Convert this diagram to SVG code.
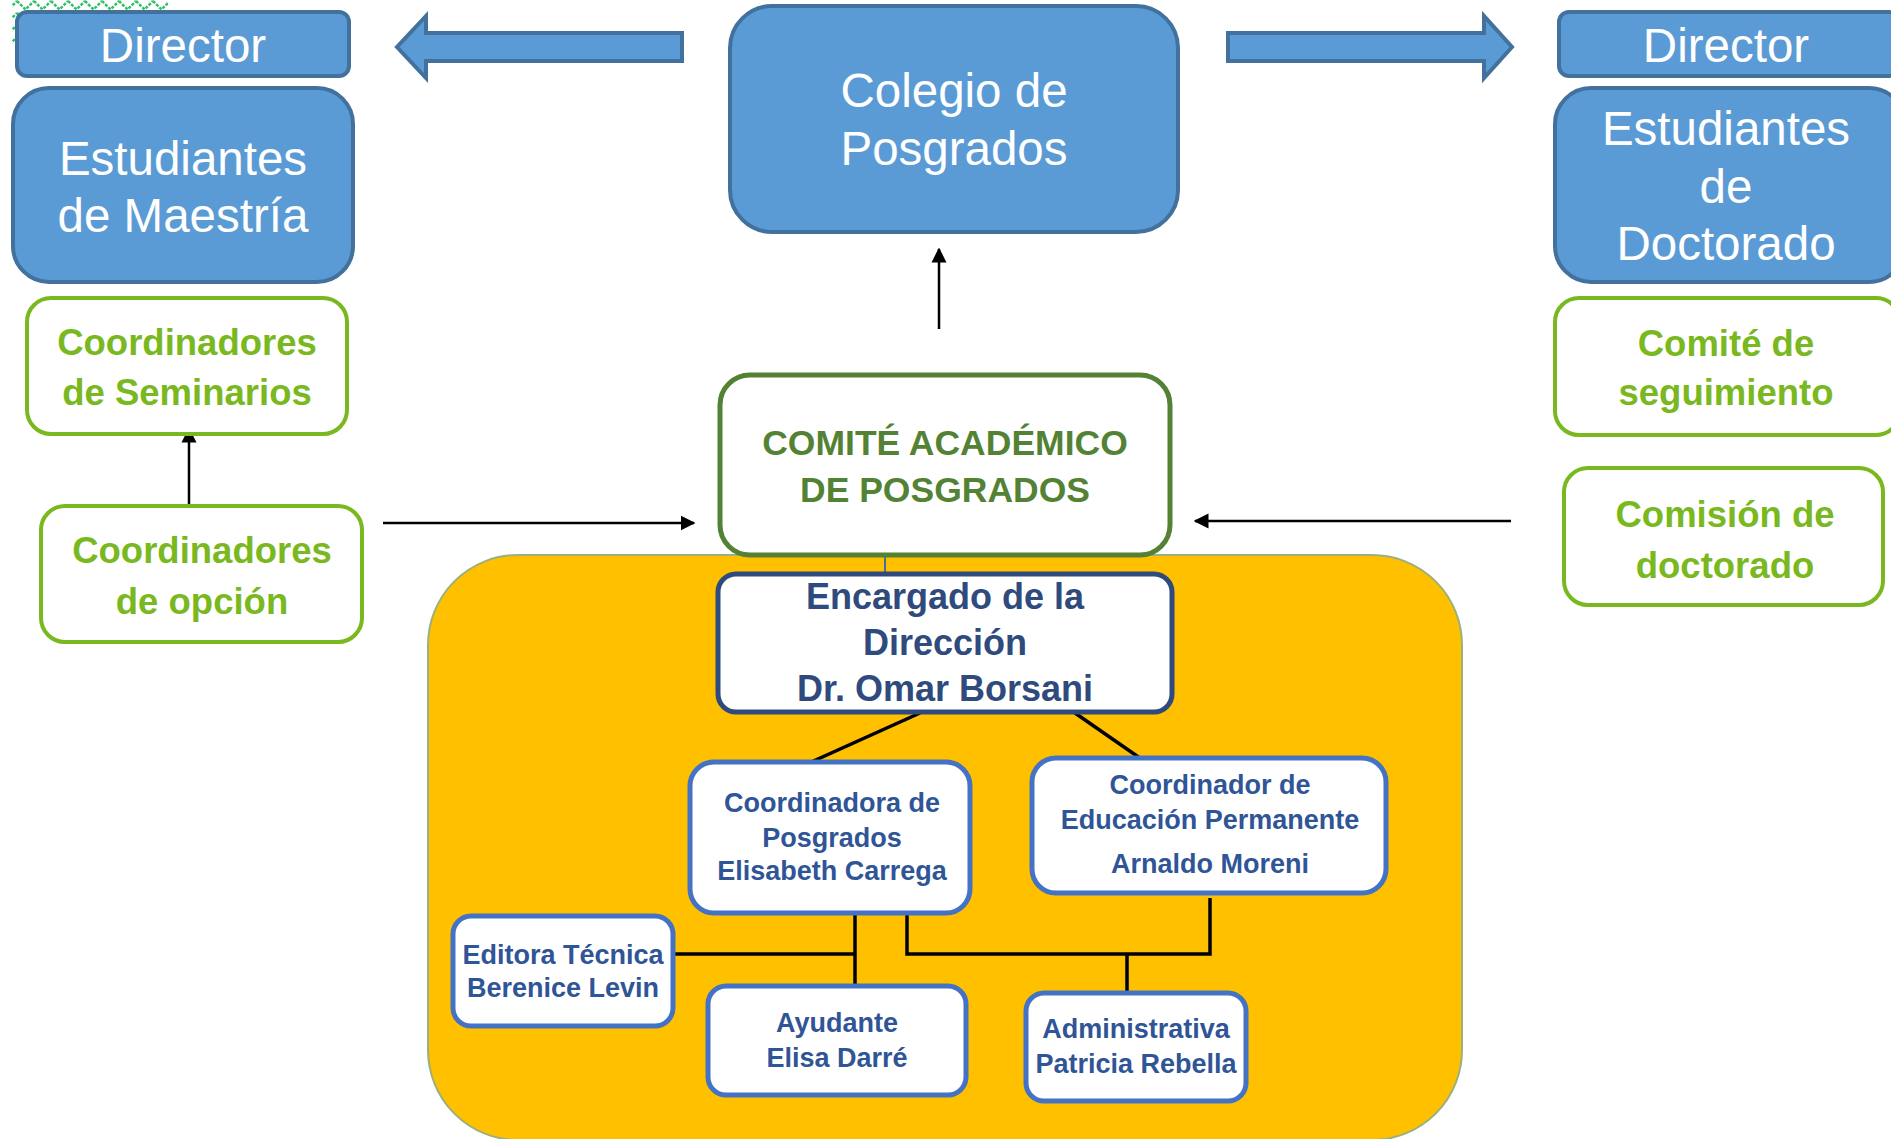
<svg xmlns="http://www.w3.org/2000/svg" width="1891" height="1139" viewBox="0 0 1891 1139">
<style>
.blue{fill:#5B9BD5;stroke:#41719C;stroke-width:4}
.bt{font-family:"Liberation Sans",Arial,sans-serif;font-size:47.5px;fill:#FFFFFF;text-anchor:middle}
.gbox{fill:#FFFFFF;stroke:#7AB81F;stroke-width:4}
.gt{font-family:"Liberation Sans",Arial,sans-serif;font-size:36.5px;font-weight:bold;fill:#7AB81F;text-anchor:middle}
.sbox{fill:#FFFFFF;stroke:#4472C4;stroke-width:5}
.st{font-family:"Liberation Sans",Arial,sans-serif;font-size:27px;font-weight:bold;fill:#2F5597;text-anchor:middle}
.ct{font-family:"Liberation Sans",Arial,sans-serif;font-size:35.5px;font-weight:bold;fill:#548235;text-anchor:middle}
.et{font-family:"Liberation Sans",Arial,sans-serif;font-size:36px;font-weight:bold;fill:#2F4A7C;text-anchor:middle}
.ln{stroke:#000000;stroke-width:3.5;fill:none}
.ar{stroke:#000000;stroke-width:2.5;fill:none;marker-end:url(#ah)}
</style>
<defs>
<marker id="ah" viewBox="0 0 10 10" refX="9" refY="5" markerWidth="6" markerHeight="6.5" markerUnits="strokeWidth" orient="auto">
<path d="M0,0 L10,5 L0,10 z" fill="#000000"/>
</marker>
<pattern id="zz" width="17" height="12" patternUnits="userSpaceOnUse">
<polyline points="0,1 8.5,9.5 17,1" fill="none" stroke="#33C066" stroke-width="2.5" stroke-dasharray="3 1.5"/>
</pattern>
</defs>

<rect id="deco" x="12" y="-3" width="156" height="51" fill="url(#zz)"/>

<g id="yellow-area">
<rect x="428" y="555" width="1034" height="585" rx="90" fill="#FFC000" stroke="#9BB07A" stroke-width="2"/>
</g>

<g id="connectors">
<polygon points="682,33 426,33 426,16 397,47 426,78 426,61 682,61" class="blue" stroke-width="3"/>
<polygon points="1228,33 1484,33 1484,16 1512,47 1484,78 1484,61 1228,61" class="blue" stroke-width="3"/>
<line x1="939" y1="329" x2="939" y2="249" class="ar"/>
<line x1="189" y1="510" x2="189" y2="429" class="ar"/>
<line x1="383" y1="523" x2="694" y2="523" class="ar"/>
<line x1="1511" y1="521" x2="1195" y2="521" class="ar"/>
<line x1="885" y1="555" x2="885" y2="576" stroke="#41719C" stroke-width="2"/>
<line x1="920" y1="713" x2="809" y2="763" class="ln"/>
<line x1="1075" y1="713" x2="1147" y2="763" class="ln"/>
<line x1="855" y1="913" x2="855" y2="986" class="ln"/>
<line x1="673" y1="954" x2="855" y2="954" class="ln"/>
<polyline points="907,913 907,954 1210,954 1210,898" class="ln"/>
<line x1="1127" y1="954" x2="1127" y2="994" class="ln"/>
</g>

<g id="director-left">
<rect x="17" y="12" width="332" height="64" rx="10" class="blue"/>
<text x="183" y="62" class="bt">Director</text>
</g>
<g id="estudiantes-maestria">
<rect x="13" y="88" width="340" height="194" rx="36" class="blue"/>
<text x="183" y="175" class="bt">Estudiantes</text>
<text x="183" y="232" class="bt">de Maestría</text>
</g>
<g id="colegio">
<rect x="730" y="6" width="448" height="226" rx="42" class="blue"/>
<text x="954" y="107" class="bt">Colegio de</text>
<text x="954" y="165" class="bt">Posgrados</text>
</g>
<g id="director-right">
<rect x="1559" y="12" width="340" height="64" rx="10" class="blue"/>
<text x="1726" y="62" class="bt">Director</text>
</g>
<g id="estudiantes-doctorado">
<rect x="1555" y="88" width="350" height="194" rx="36" class="blue"/>
<text x="1726" y="145" class="bt">Estudiantes</text>
<text x="1726" y="203" class="bt">de</text>
<text x="1726" y="260" class="bt">Doctorado</text>
</g>

<g id="coord-seminarios">
<rect x="27" y="298" width="320" height="136" rx="24" class="gbox"/>
<text x="187" y="355" class="gt">Coordinadores</text>
<text x="187" y="405" class="gt">de Seminarios</text>
</g>
<g id="coord-opcion">
<rect x="41" y="506" width="321" height="136" rx="24" class="gbox"/>
<text x="202" y="563" class="gt">Coordinadores</text>
<text x="202" y="614" class="gt">de opción</text>
</g>
<g id="comite-seguimiento">
<rect x="1555" y="298" width="345" height="137" rx="24" class="gbox"/>
<text x="1726" y="356" class="gt">Comité de</text>
<text x="1726" y="405" class="gt">seguimiento</text>
</g>
<g id="comision-doctorado">
<rect x="1564" y="468" width="319" height="137" rx="24" class="gbox"/>
<text x="1725" y="527" class="gt">Comisión de</text>
<text x="1725" y="578" class="gt">doctorado</text>
</g>

<g id="comite-academico">
<rect x="720" y="375" width="450" height="180" rx="30" fill="#FFFFFF" stroke="#548235" stroke-width="5"/>
<text x="945" y="455" class="ct">COMITÉ ACADÉMICO</text>
<text x="945" y="502" class="ct">DE POSGRADOS</text>
</g>

<g id="encargado">
<rect x="718" y="574" width="454" height="138" rx="18" fill="#FFFFFF" stroke="#2F4A7C" stroke-width="5"/>
<text x="945" y="609" class="et">Encargado de la</text>
<text x="945" y="655" class="et">Dirección</text>
<text x="945" y="701" class="et">Dr. Omar Borsani</text>
</g>

<g id="coordinadora-posgrados">
<rect x="690" y="762" width="280" height="151" rx="24" class="sbox"/>
<text x="832" y="812" class="st">Coordinadora de</text>
<text x="832" y="847" class="st">Posgrados</text>
<text x="832" y="880" class="st">Elisabeth Carrega</text>
</g>
<g id="coordinador-educacion">
<rect x="1032" y="758" width="354" height="135" rx="24" class="sbox"/>
<text x="1210" y="794" class="st">Coordinador de</text>
<text x="1210" y="829" class="st">Educación Permanente</text>
<text x="1210" y="873" class="st">Arnaldo Moreni</text>
</g>
<g id="editora">
<rect x="453" y="916" width="220" height="110" rx="18" class="sbox"/>
<text x="563" y="964" class="st">Editora Técnica</text>
<text x="563" y="997" class="st">Berenice Levin</text>
</g>
<g id="ayudante">
<rect x="708" y="986" width="258" height="109" rx="18" class="sbox"/>
<text x="837" y="1032" class="st">Ayudante</text>
<text x="837" y="1067" class="st">Elisa Darré</text>
</g>
<g id="administrativa">
<rect x="1026" y="993" width="220" height="108" rx="18" class="sbox"/>
<text x="1136" y="1038" class="st">Administrativa</text>
<text x="1136" y="1073" class="st">Patricia Rebella</text>
</g>
</svg>
